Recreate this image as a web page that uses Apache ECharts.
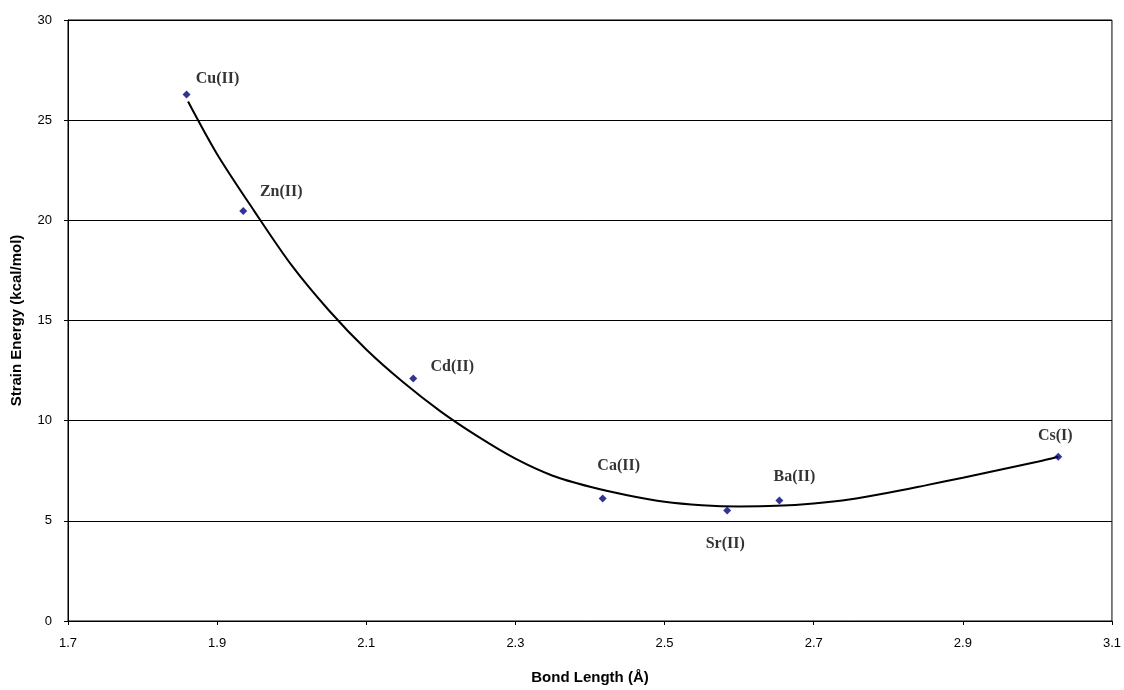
<!DOCTYPE html>
<html>
<head>
<meta charset="utf-8">
<script src="https://cdn.jsdelivr.net/npm/echarts@6/dist/echarts.min.js"></script>
<style>
html,body{margin:0;padding:0;background:#fff;}
#chart{width:1124px;height:690px;}
</style>
</head>
<body>
<div id="chart"></div>
<script>
// ---- data ----
const ions = ['Cu(II)', 'Zn(II)', 'Cd(II)', 'Ca(II)', 'Sr(II)', 'Ba(II)', 'Cs(I)'];
const bondLength = [1.859, 1.935, 2.163, 2.417, 2.584, 2.654, 3.028];
const strainEnergy = [26.28, 20.46, 12.11, 6.12, 5.51, 6.02, 8.20];
// trendline
const trendX = [1.861, 1.90, 1.95, 2.00, 2.05, 2.10, 2.15, 2.20, 2.25, 2.30, 2.35, 2.40, 2.45, 2.50, 2.55, 2.60, 2.65, 2.70, 2.75, 2.80, 2.85, 2.90, 2.95, 3.00, 3.028];
const trendY = [25.93, 23.3, 20.45, 17.75, 15.5, 13.55, 11.9, 10.45, 9.2, 8.1, 7.25, 6.70, 6.28, 5.95, 5.78, 5.72, 5.75, 5.87, 6.08, 6.40, 6.77, 7.15, 7.55, 7.95, 8.20];
const xTicks = [1.7, 1.9, 2.1, 2.3, 2.5, 2.7, 2.9, 3.1];
const yTicks = [0, 5, 10, 15, 20, 25, 30];

// ---- layout (label offsets in px, relative to marker centre) ----
const labelOffsets = [[31, -16], [38, -19], [39, -12], [16, -33], [-2, 33], [15, -24], [-3, -21]];

const pointData = bondLength.map((x, i) => ({
  value: [x, strainEnergy[i]],
  name: ions[i],
  label: { offset: labelOffsets[i] }
}));
const trendData = trendX.map((x, i) => [x, trendY[i]]);

const chart = echarts.init(document.getElementById('chart'), null, { renderer: 'canvas' });
chart.setOption({
  animation: false,
  backgroundColor: '#fff',
  grid: {
    left: 68, right: 11, top: 20, bottom: 68,
    show: true, borderColor: '#000', borderWidth: 1, backgroundColor: 'transparent'
  },
  xAxis: {
    type: 'value',
    min: xTicks[0], max: xTicks[xTicks.length - 1],
    name: 'Bond Length (Å)',
    nameLocation: 'middle', nameGap: 49,
    nameTextStyle: { fontFamily: 'Liberation Sans', fontWeight: 'bold', fontSize: 15, color: '#000' },
    axisLine: { show: true, lineStyle: { color: '#000', width: 1 } },
    axisTick: { show: true, length: 4, inside: false, customValues: xTicks, lineStyle: { color: '#000' } },
    axisLabel: { customValues: xTicks, fontFamily: 'Liberation Sans', fontSize: 13, color: '#000', margin: 16,
      formatter: v => Number(v).toFixed(1) },
    splitLine: { show: false }
  },
  yAxis: {
    type: 'value',
    min: yTicks[0], max: yTicks[yTicks.length - 1], interval: 5,
    name: 'Strain Energy (kcal/mol)',
    nameLocation: 'middle', nameGap: 44, nameRotate: 90,
    nameTextStyle: { fontFamily: 'Liberation Sans', fontWeight: 'bold', fontSize: 15, color: '#000' },
    axisLine: { show: true, lineStyle: { color: '#000', width: 1 } },
    axisTick: { show: true, length: 4, lineStyle: { color: '#000' } },
    axisLabel: { fontFamily: 'Liberation Sans', fontSize: 13, color: '#000', margin: 16 },
    splitLine: { show: true, lineStyle: { color: '#000', width: 1 } }
  },
  series: [
    {
      type: 'line',
      data: trendData,
      smooth: 0.3,
      showSymbol: false,
      lineStyle: { color: '#000', width: 2 },
      z: 2,
      silent: true
    },
    {
      type: 'scatter',
      data: pointData,
      symbol: 'diamond',
      symbolSize: 8,
      itemStyle: { color: '#00007a' },
      label: {
        show: true,
        position: 'inside',
        formatter: p => p.name,
        fontFamily: 'Liberation Serif',
        fontWeight: 'bold',
        fontSize: 16,
        color: '#000'
      },
      z: 3
    }
  ]
});
</script>
</body>
</html>
